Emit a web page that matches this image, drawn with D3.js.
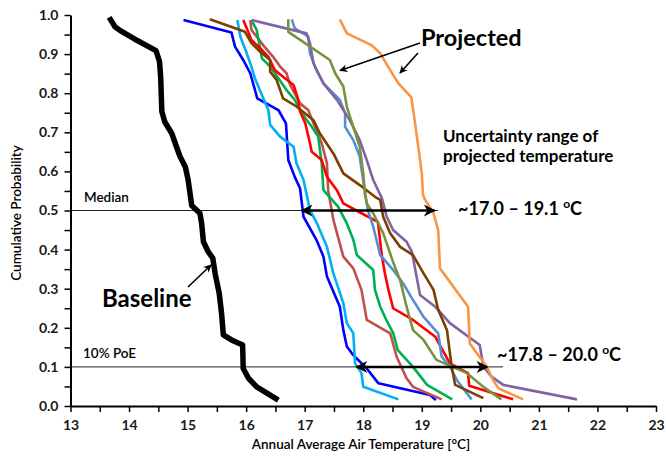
<!DOCTYPE html>
<html><head><meta charset="utf-8">
<script src="https://cdn.jsdelivr.net/npm/d3@7"></script>
<style>
body{margin:0;background:#fff;}
svg{display:block;font-family:Lato,"Liberation Sans",sans-serif;}
</style></head>
<body><svg id="c" width="666" height="458"></svg>
<script>
// ---- data: [temperature °C, cumulative probability]
const baseline = [[13.66,0.994],[13.76,0.970],[13.85,0.960],[14.10,0.938],[14.46,0.909],[14.52,0.881],[14.54,0.842],[14.56,0.753],[14.61,0.727],[14.73,0.697],[14.81,0.663],[14.87,0.638],[14.96,0.612],[15.01,0.578],[15.07,0.513],[15.21,0.493],[15.24,0.467],[15.27,0.420],[15.35,0.395],[15.43,0.378],[15.47,0.339],[15.54,0.288],[15.58,0.237],[15.61,0.182],[15.75,0.169],[15.94,0.156],[15.95,0.096],[16.04,0.071],[16.18,0.049],[16.55,0.015]];
const projBlue = [[14.93,0.987],[15.75,0.955],[15.81,0.919],[15.95,0.885],[16.07,0.851],[16.19,0.787],[16.55,0.757],[16.68,0.723],[16.72,0.629],[16.83,0.586],[16.92,0.557],[16.98,0.484],[17.20,0.425],[17.32,0.382],[17.38,0.331],[17.60,0.254],[17.66,0.194],[17.72,0.152],[17.83,0.130],[18.06,0.096],[18.26,0.058],[19.14,0.028],[19.24,0.015]];
const projCyan = [[15.85,0.987],[15.90,0.945],[16.01,0.902],[16.09,0.868],[16.15,0.838],[16.27,0.795],[16.38,0.757],[16.41,0.719],[16.58,0.689],[16.81,0.663],[16.86,0.621],[16.98,0.578],[17.09,0.501],[17.21,0.467],[17.38,0.407],[17.49,0.339],[17.66,0.263],[17.72,0.212],[17.83,0.186],[17.86,0.109],[17.97,0.084],[18.00,0.049],[18.60,0.017]];
const projRosy = [[16.07,0.987],[16.09,0.962],[16.29,0.923],[16.46,0.893],[16.58,0.868],[16.69,0.851],[16.75,0.821],[16.92,0.774],[17.06,0.757],[17.15,0.723],[17.29,0.672],[17.38,0.621],[17.40,0.552],[17.49,0.476],[17.66,0.382],[17.83,0.352],[17.97,0.297],[18.06,0.220],[18.46,0.186],[18.57,0.126],[18.74,0.071],[18.85,0.049],[19.34,0.017]];
const projGreen = [[16.09,0.987],[16.18,0.962],[16.27,0.889],[16.41,0.868],[16.55,0.838],[16.69,0.808],[16.83,0.783],[16.95,0.749],[17.12,0.714],[17.23,0.689],[17.29,0.621],[17.32,0.552],[17.57,0.510],[17.72,0.467],[17.83,0.425],[17.89,0.386],[18.17,0.348],[18.20,0.297],[18.29,0.254],[18.41,0.215],[18.51,0.187],[18.59,0.143],[18.85,0.100],[19.09,0.054],[19.52,0.017]];
const projRed = [[15.95,0.987],[16.01,0.966],[16.09,0.936],[16.24,0.915],[16.38,0.893],[16.49,0.859],[16.63,0.842],[16.81,0.821],[16.89,0.783],[16.92,0.753],[17.01,0.723],[17.09,0.672],[17.12,0.650],[17.29,0.629],[17.38,0.586],[17.55,0.552],[17.66,0.518],[17.97,0.493],[18.25,0.471],[18.32,0.382],[18.37,0.339],[18.43,0.297],[18.51,0.250],[18.85,0.220],[19.23,0.177],[19.48,0.109],[19.79,0.084],[19.81,0.052],[20.56,0.017]];
const projSteel = [[16.78,0.989],[16.83,0.966],[17.06,0.945],[17.09,0.902],[17.20,0.859],[17.32,0.825],[17.60,0.783],[17.69,0.749],[17.69,0.714],[17.83,0.680],[17.94,0.638],[18.01,0.565],[18.08,0.501],[18.17,0.459],[18.29,0.386],[18.51,0.348],[18.68,0.314],[18.85,0.271],[19.03,0.228],[19.28,0.186],[19.34,0.126],[19.48,0.101],[19.60,0.066],[19.85,0.017]];
const projPurple = [[16.09,0.987],[17.03,0.953],[17.09,0.928],[17.15,0.876],[17.32,0.825],[17.55,0.783],[17.77,0.731],[17.94,0.680],[18.06,0.629],[18.17,0.578],[18.32,0.531],[18.40,0.484],[18.51,0.450],[18.74,0.420],[18.83,0.395],[18.97,0.284],[19.23,0.254],[19.48,0.212],[19.99,0.156],[20.05,0.101],[20.19,0.075],[20.39,0.054],[21.65,0.017]];
const projBrown = [[15.38,0.989],[15.98,0.957],[16.09,0.928],[16.24,0.906],[16.41,0.885],[16.41,0.855],[16.52,0.834],[16.63,0.787],[16.86,0.766],[17.15,0.731],[17.26,0.697],[17.49,0.646],[17.66,0.595],[17.94,0.565],[18.20,0.535],[18.29,0.527],[18.34,0.484],[18.46,0.442],[18.63,0.407],[18.85,0.386],[19.03,0.339],[19.20,0.297],[19.28,0.246],[19.43,0.194],[19.51,0.101],[19.57,0.054],[20.05,0.020]];
const projOlive = [[16.72,0.989],[16.72,0.957],[17.43,0.885],[17.52,0.851],[17.66,0.817],[17.72,0.765],[17.83,0.714],[17.94,0.663],[18.00,0.595],[18.03,0.540],[18.06,0.518],[18.17,0.493],[18.34,0.442],[18.51,0.368],[18.63,0.322],[18.74,0.254],[18.85,0.194],[19.03,0.169],[19.25,0.118],[19.77,0.084],[20.05,0.049],[20.36,0.017]];
const projOrange = [[17.60,0.989],[17.72,0.953],[18.14,0.923],[18.29,0.902],[18.46,0.859],[18.60,0.825],[18.82,0.790],[18.87,0.739],[18.94,0.663],[19.00,0.595],[19.02,0.540],[19.05,0.529],[19.20,0.493],[19.28,0.450],[19.31,0.352],[19.79,0.254],[19.82,0.160],[19.94,0.135],[20.11,0.101],[20.22,0.066],[20.31,0.045],[20.73,0.017]];

const projected = [projBlue, projCyan, projRosy, projGreen, projRed, projSteel, projPurple, projBrown, projOlive, projOrange];
const projColors = ["#0000ff","#00b0f0","#c0504d","#00b050","#ff0000","#558ed5","#8064a2","#7b3f00","#77933c","#f79646"];

const xTicks = d3.range(13, 23.001, 0.5);
const yTicks = d3.range(0, 1.0001, 0.05);
const medianRange = [17.0, 19.1];
const poeRange = [17.8, 20.0];
const refLevels = [0.5, 0.1];

// ---- drawing
const svg = d3.select("#c");
const x = d3.scaleLinear().domain([13, 23]).range([70.5, 656]);
const y = d3.scaleLinear().domain([0, 1]).range([406, 15]);

const defs = svg.append("defs");
function mk(id, w, h) {
  defs.append("marker").attr("id", id).attr("viewBox", "0 0 10 10")
    .attr("refX", 9).attr("refY", 5).attr("markerUnits", "userSpaceOnUse")
    .attr("markerWidth", w).attr("markerHeight", h).attr("orient", "auto-start-reverse")
    .append("path").attr("d", "M0,0 L10,5 L0,10 L3,5 Z").attr("fill", "#000");
}
mk("big", 14, 12);
mk("small", 9, 8);

// reference lines
svg.append("g").selectAll("line").data(refLevels).join("line")
  .attr("x1", x(13)).attr("x2", (d, i) => i === 0 ? 438 : 503)
  .attr("y1", d => y(d)).attr("y2", d => y(d))
  .attr("stroke", "#222").attr("stroke-width", 1);

const line = d3.line().x(d => x(d[0])).y(d => y(d[1]));
svg.append("g").selectAll("path").data(projected).join("path")
  .attr("d", line).attr("fill", "none")
  .attr("stroke", (d, i) => projColors[i]).attr("stroke-width", 2.6)
  .attr("stroke-linejoin", "round");
svg.append("path").datum(baseline).attr("d", line).attr("fill", "none")
  .attr("stroke", "#000").attr("stroke-width", 5.5).attr("stroke-linejoin", "round");

// axes
const xa = svg.append("g").attr("transform", `translate(0,${y(0)})`)
  .call(d3.axisBottom(x).tickValues(xTicks).tickSize(6).tickSizeOuter(0).tickPadding(8)
    .tickFormat(d => Number.isInteger(d) ? d : ""));
const ya = svg.append("g").attr("transform", `translate(${x(13)},0)`)
  .call(d3.axisLeft(y).tickValues(yTicks).tickSize(6).tickSizeOuter(0).tickPadding(6)
    .tickFormat(d => Math.round(d * 100) % 10 === 0 ? d3.format(".1f")(d) : ""));
[xa, ya].forEach(a => {
  a.select(".domain").attr("stroke", "#000").attr("stroke-width", 2);
  a.selectAll(".tick line").attr("stroke", "#000").attr("stroke-width", 1.5);
  a.selectAll("text").attr("font-family", "Lato").attr("font-size", 14)
    .attr("font-weight", "bold").attr("fill", "#1a1a1a");
});

svg.append("text").attr("x", 361).attr("y", 449).attr("text-anchor", "middle")
  .attr("font-size", 13.5).attr("font-weight", 600).attr("fill", "#000")
  .text("Annual Average Air Temperature [°C]");
svg.append("text").attr("transform", "translate(21,213) rotate(-90)").attr("text-anchor", "middle")
  .attr("font-size", 13.5).attr("font-weight", 600).attr("fill", "#000")
  .text("Cumulative Probability");

// range arrows
svg.append("line").attr("x1", x(medianRange[0]) - 3).attr("x2", x(medianRange[1]) + 7)
  .attr("y1", y(0.5)).attr("y2", y(0.5)).attr("stroke", "#000").attr("stroke-width", 2.5)
  .attr("marker-start", "url(#big)").attr("marker-end", "url(#big)");
svg.append("line").attr("x1", x(poeRange[0]) + 5).attr("x2", x(poeRange[1]) + 7)
  .attr("y1", y(0.1)).attr("y2", y(0.1)).attr("stroke", "#000").attr("stroke-width", 2.5)
  .attr("marker-start", "url(#big)").attr("marker-end", "url(#big)");

// pointer arrows
const ptr = [[420, 43, 340, 70.5], [418, 53, 400, 73], [188, 287, 211, 265]];
svg.append("g").selectAll("line").data(ptr).join("line")
  .attr("x1", d => d[0]).attr("y1", d => d[1]).attr("x2", d => d[2]).attr("y2", d => d[3])
  .attr("stroke", "#000").attr("stroke-width", 1.6).attr("marker-end", "url(#small)");

// labels
const lab = (t, xx, yy, fs, fw) => svg.append("text").attr("x", xx).attr("y", yy)
  .attr("font-size", fs).attr("font-weight", fw).attr("fill", "#000").text(t);
lab("Median", 84, 202, 13.5, 600);
lab("10% PoE", 83, 358, 13.5, 600);
lab("Baseline", 102, 307, 24, "bold");
lab("Projected", 421, 46, 23.5, "bold");
lab("Uncertainty range of", 443, 142, 17, "bold");
lab("projected temperature", 443, 162, 17, "bold");
function rangeLabel(a, b, xx, yy) {
  const t = svg.append("text").attr("x", xx).attr("y", yy).attr("font-size", 18)
    .attr("font-weight", "bold").attr("fill", "#000");
  t.append("tspan").text(`~${a.toFixed(1)} – ${b.toFixed(1)} `);
  t.append("tspan").attr("font-size", 12).attr("dy", -7).text("o");
  t.append("tspan").attr("dy", 7).text("C");
}
rangeLabel(medianRange[0], medianRange[1], 458, 215);
rangeLabel(poeRange[0], poeRange[1], 497, 361);
</script></body></html>
